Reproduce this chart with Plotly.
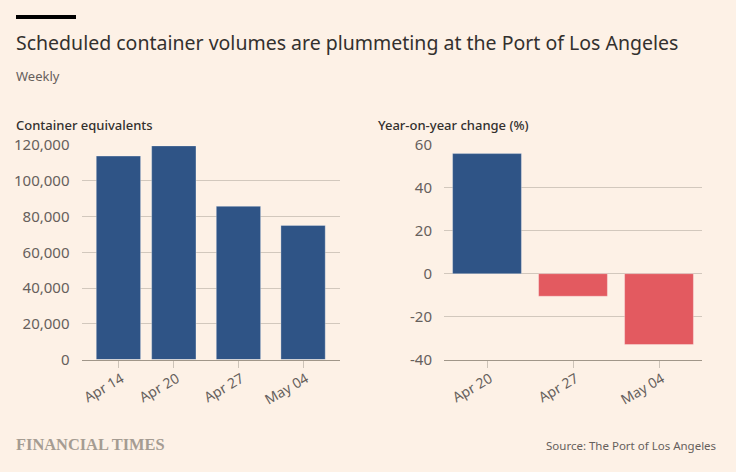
import plotly.graph_objects as go

title = "Scheduled container volumes are plummeting at the Port of Los Angeles"
subtitle = "Weekly"
left_title = "Container equivalents"
right_title = "Year-on-year change (%)"
source = "Source: The Port of Los Angeles"
logo = "FINANCIAL TIMES"

volume_dates = ["2025-04-14", "2025-04-20", "2025-04-27", "2025-05-04"]
volume_labels = ["Apr 14", "Apr 20", "Apr 27", "May 04"]
volumes = [113800, 119500, 85700, 75000]

change_labels = ["Apr 20", "Apr 27", "May 04"]
changes = [56, -10.5, -33]

volume_ticks = [0, 20000, 40000, 60000, 80000, 100000, 120000]
change_ticks = [-40, -20, 0, 20, 40, 60]
change_ticktext = ["-40", "-20", "0", "20", "40", "60"]

W = 736
H = 472
BG = "#fdf1e6"
BLUE = "#2f5486"
RED = "#e35a60"
GRID = "#d2c8bd"
AXIS = "#a09689"
TEXT = "#66605c"
DARK = "#33302e"
FONT = "Noto Sans"

fig = go.Figure()

fig.add_trace(go.Bar(
    x=volume_dates,
    y=volumes,
    width=4.8 * 86400000,
    marker=dict(color=BLUE, line=dict(color="rgba(255,255,255,0.3)", width=1)),
    xaxis="x",
    yaxis="y",
))
fig.add_trace(go.Bar(
    x=change_labels,
    y=changes,
    width=0.8,
    marker=dict(color=[BLUE if v > 0 else RED for v in changes],
                line=dict(color="rgba(255,255,255,0.3)", width=1)),
    xaxis="x2",
    yaxis="y2",
))

common_y = dict(
    automargin=False,
    showgrid=True, gridcolor=GRID, gridwidth=1,
    showline=False,
    ticks="outside", ticklen=8, tickcolor=BG,
    tickfont=dict(family=FONT, size=15, color=TEXT),
)
common_x = dict(
    automargin=False,
    showgrid=False,
    showline=True, linecolor=AXIS, linewidth=1,
    ticks="outside", ticklen=7, tickcolor="#cdc3b8", tickwidth=1,
    tickangle=-30,
    ticklabelshift=3,
    ticklabelstandoff=-2,
    tickfont=dict(family=FONT, size=14, color=TEXT),
)

fig.update_layout(
    width=W,
    height=H,
    margin=dict(l=0, r=0, t=0, b=0),
    paper_bgcolor=BG,
    plot_bgcolor=BG,
    showlegend=False,
    xaxis=dict(
        domain=[81.5 / W, 340 / W],
        type="date",
        range=["2025-04-10", "2025-05-08"],
        tickvals=volume_dates,
        ticktext=volume_labels,
        anchor="y",
        **common_x,
    ),
    yaxis=dict(
        domain=[1 - 359.5 / H, 1 - 145 / H],
        range=[0, 120000],
        tickvals=volume_ticks,
        tickformat=",",
        zeroline=False,
        anchor="x",
        **common_y,
    ),
    xaxis2=dict(
        domain=[444 / W, 702 / W],
        type="category",
        range=[-0.5, 2.5],
        anchor="y2",
        **common_x,
    ),
    yaxis2=dict(
        domain=[1 - 359.5 / H, 1 - 145 / H],
        range=[-40, 60],
        tickvals=change_ticks,
        ticktext=change_ticktext,
        zeroline=True, zerolinecolor=GRID, zerolinewidth=1,
        anchor="x2",
        **common_y,
    ),
)

# rule above the title
fig.add_shape(type="rect", xref="paper", yref="paper",
              x0=16 / W, x1=76 / W, y0=1 - 19 / H, y1=1 - 15 / H,
              fillcolor="#000000", line_width=0)


def add_text(text, x, y, size, color, family=FONT, xanchor="left", weight=400):
    fig.add_annotation(text=text, xref="paper", yref="paper",
                       x=x / W, y=1 - y / H, xanchor=xanchor, yanchor="middle",
                       showarrow=False, align="left", borderpad=0, borderwidth=0,
                       font=dict(family=family, size=size, color=color, weight=weight))


add_text(title, 16, 43, 19.5, DARK)
add_text(subtitle, 16, 76, 13, TEXT)
add_text(left_title, 16, 125, 13, DARK, weight=500)
add_text(right_title, 378, 125, 13, DARK, weight=500)
add_text(logo, 16, 444, 16.4, "#a59c92", family="Liberation Serif", weight=700)
add_text(source, 716, 445, 11.5, TEXT, xanchor="right")

# browser default body margin would push the 736x472 figure off the window
fig.write_html("out.html", config={"displayModeBar": False},
               post_script="document.body.style.margin='0';document.body.style.overflow='hidden';")
